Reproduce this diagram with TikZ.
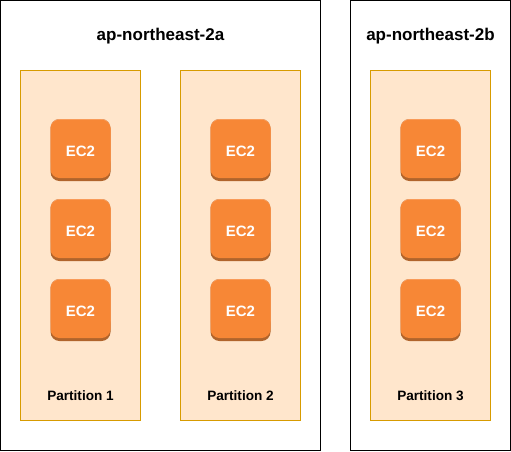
\documentclass[tikz,border=0pt]{standalone}
\usepackage{fontspec}
\setmainfont{Liberation Sans}
\definecolor{zoneedge}{HTML}{000000}
\definecolor{partfill}{HTML}{FFE6CC}
\definecolor{partedge}{HTML}{D79B00}
\definecolor{ecface}{HTML}{F78736}
\definecolor{ectop}{HTML}{FBA66C}
\definecolor{ecshade}{HTML}{B0642C}
\begin{document}
\begin{tikzpicture}[x=1pt,y=-1pt,
  zonebox/.style={draw=zoneedge,line width=0.9pt,fill=white},
  partbox/.style={draw=partedge,line width=0.9pt,fill=partfill},
  title/.style={font=\bfseries\fontsize{17}{20}\selectfont,text=black},
  partlabel/.style={font=\bfseries\fontsize{13.6}{16}\selectfont,text=black},
  ecshadow/.style={fill=ecshade,rounded corners=9pt},
  ecbody/.style={fill=ecface,rounded corners=9pt},
  ectopedge/.style={fill=ectop,rounded corners=9pt},
  eclabel/.style={font=\bfseries\fontsize{15}{17}\selectfont,text=white}]
\useasboundingbox (0,0) rectangle (511,451);
\draw[zonebox] (0.5,0.5) rectangle (320.5,450.5);
\draw[zonebox] (350.5,0.5) rectangle (510.5,450.5);
\node[title] (za) at (160.5,36) {ap-northeast-2a};
\node[title] (zb) at (430.5,36) {ap-northeast-2b};
\draw[partbox] (20.5,70.5) rectangle (140.5,420.5);
\draw[partbox] (180.5,70.5) rectangle (300.5,420.5);
\draw[partbox] (370.5,70.5) rectangle (490.5,420.5);
\foreach \nm/\cx in {a/80.5,b/240.5,c/430.5}{
  \foreach \rw/\cy in {1/150,2/230,3/310}{
    \fill[ecshadow] (\cx-30,\cy-31) rectangle (\cx+30,\cy+31);
    \fill[ectopedge] (\cx-30,\cy-31) rectangle (\cx+30,\cy+20);
    \fill[ecbody] (\cx-30,\cy-30.3) rectangle (\cx+30,\cy+28);
    \node[eclabel] (ec\nm\rw) at (\cx,\cy+1.5) {EC2};
  }
}
\node[partlabel] (pa) at (80.5,395.5) {Partition 1};
\node[partlabel] (pb) at (240.5,395.5) {Partition 2};
\node[partlabel] (pc) at (430.5,395.5) {Partition 3};
\end{tikzpicture}
\end{document}
